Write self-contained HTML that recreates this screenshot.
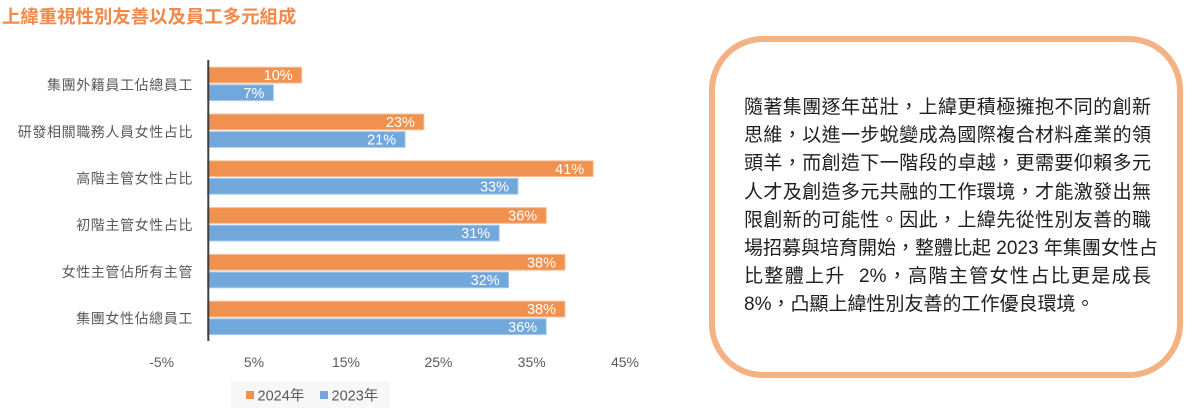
<!DOCTYPE html>
<html><head><meta charset="utf-8">
<style>
html,body{margin:0;padding:0;background:#fff;}
body{width:1195px;height:418px;position:relative;overflow:hidden;font-family:"Liberation Sans","Noto Sans CJK TC",sans-serif;}
svg{position:absolute;left:0;top:0;}
.box{position:absolute;left:709px;top:36px;width:462px;height:330px;border:6.5px solid #F4B183;border-radius:54px;background:#fff;}
.txt{position:absolute;left:744px;top:94px;width:407px;font-family:"Liberation Sans","Noto Sans CJK TC",sans-serif;font-size:19px;line-height:28.2px;color:#1e1e1e;}
.txt div{text-align:justify;text-align-last:justify;white-space:nowrap;}
.txt div.last{text-align:left;text-align-last:left;}
</style></head><body>
<svg width="1195" height="418" viewBox="0 0 1195 418" xmlns="http://www.w3.org/2000/svg" font-family="Liberation Sans, Noto Sans CJK TC, sans-serif">
<text x="2" y="23" font-size="18.4" font-weight="bold" fill="#EF8A4B" font-family="Liberation Sans, Noto Sans CJK TC, sans-serif">上緯重視性別友善以及員工多元組成</text>
<g font-size="14" fill="#595959" text-anchor="end" letter-spacing="0.6">
<text x="193" y="90">集團外籍員工佔總員工</text>
<text x="193" y="137">研發相關職務人員女性占比</text>
<text x="193" y="183.5">高階主管女性占比</text>
<text x="193" y="230">初階主管女性占比</text>
<text x="193" y="277">女性主管佔所有主管</text>
<text x="193" y="323.5">集團女性佔總員工</text>
</g>
<g stroke-width="1">
<rect x="207.6" y="67.2" width="94.1" height="15.8" fill="#F0914F" stroke="#F6C19C"/>
<rect x="207.6" y="84.8" width="65.8" height="15.8" fill="#71A7DA" stroke="#A9CBEA"/>
<rect x="207.6" y="114" width="216.3" height="15.8" fill="#F0914F" stroke="#F6C19C"/>
<rect x="207.6" y="131.6" width="197.5" height="15.8" fill="#71A7DA" stroke="#A9CBEA"/>
<rect x="207.6" y="160.8" width="385.6" height="15.8" fill="#F0914F" stroke="#F6C19C"/>
<rect x="207.6" y="178.4" width="310.4" height="15.8" fill="#71A7DA" stroke="#A9CBEA"/>
<rect x="207.6" y="207.6" width="338.6" height="15.8" fill="#F0914F" stroke="#F6C19C"/>
<rect x="207.6" y="225.2" width="291.6" height="15.8" fill="#71A7DA" stroke="#A9CBEA"/>
<rect x="207.6" y="254.4" width="357.4" height="15.8" fill="#F0914F" stroke="#F6C19C"/>
<rect x="207.6" y="272" width="301" height="15.8" fill="#71A7DA" stroke="#A9CBEA"/>
<rect x="207.6" y="301.2" width="357.4" height="15.8" fill="#F0914F" stroke="#F6C19C"/>
<rect x="207.6" y="318.8" width="338.6" height="15.8" fill="#71A7DA" stroke="#A9CBEA"/>
</g>
<g font-size="14.5" fill="#fff" text-anchor="end">
<text x="292.7" y="80.2">10%</text>
<text x="264.4" y="97.8">7%</text>
<text x="414.9" y="127">23%</text>
<text x="396.1" y="144.6">21%</text>
<text x="584.2" y="173.8">41%</text>
<text x="509" y="191.4">33%</text>
<text x="537.2" y="220.6">36%</text>
<text x="490.2" y="238.2">31%</text>
<text x="556" y="267.4">38%</text>
<text x="499.6" y="285">32%</text>
<text x="556" y="314.2">38%</text>
<text x="537.2" y="331.8">36%</text>
</g>
<line x1="208.3" y1="60" x2="208.3" y2="341" stroke="#404040" stroke-width="2"/>
<g font-size="14" fill="#595959" text-anchor="middle">
<text x="161.7" y="367">-5%</text>
<text x="254" y="367">5%</text>
<text x="346" y="367">15%</text>
<text x="438.5" y="367">25%</text>
<text x="531.7" y="367">35%</text>
<text x="625" y="367">45%</text>
</g>
<rect x="231" y="381" width="159" height="27" fill="#F7F7F7"/>
<rect x="246" y="391" width="8" height="8" fill="#F0914F"/>
<text x="257.5" y="400.5" font-size="14.5" fill="#595959">2024年</text>
<rect x="320" y="391" width="8" height="8" fill="#71A7DA"/>
<text x="331.5" y="400.5" font-size="14.5" fill="#595959">2023年</text>
</svg>
<div class="box"></div>
<div class="txt">
<div>隨著集團逐年茁壯，上緯更積極擁抱不同的創新</div>
<div>思維，以進一步蛻變成為國際複合材料產業的領</div>
<div>頭羊，而創造下一階段的卓越，更需要仰賴多元</div>
<div>人才及創造多元共融的工作環境，才能激發出無</div>
<div>限創新的可能性。因此，上緯先從性別友善的職</div>
<div>場招募與培育開始，整體比起 2023 年集團女性占</div>
<div>比整體上升&nbsp; 2%，高階主管女性占比更是成長</div>
<div class="last">8%，凸顯上緯性別友善的工作優良環境。</div>
</div>
</body></html>
